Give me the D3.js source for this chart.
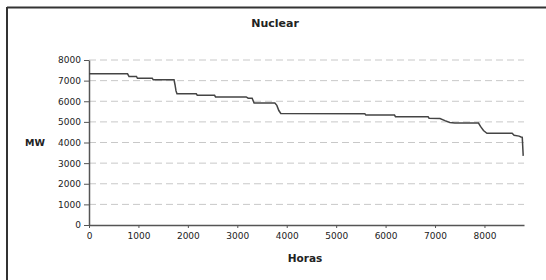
<!DOCTYPE html>
<html lang="es">
<head>
<meta charset="utf-8">
<title>Nuclear</title>
<script src="https://d3js.org/d3.v7.min.js"></script>
<style>
  body { margin: 0; background: #fff; }
  text { font-family: "DejaVu Sans", Verdana, sans-serif; fill: #222; }
</style>
</head>
<body>
<div id="chart"></div>
<script>
// duration curve: hours vs MW
var horas = [0, 780, 810, 960, 980, 1280, 1300, 1720, 1740, 1760, 1780, 2170, 2190, 2540, 2560, 3180, 3220,
  3300, 3340, 3760, 3800, 3840, 3880, 5580, 5600, 6180, 6200, 6860, 6880, 7100, 7200, 7300, 7400, 7880,
  7920, 7980, 8050, 8560, 8600, 8700, 8740, 8765, 8784];
var mw = [7330, 7330, 7200, 7200, 7110, 7110, 7040, 7040, 6800, 6500, 6360, 6360, 6290, 6290, 6210, 6210, 6150,
  6150, 5910, 5910, 5800, 5550, 5410, 5400, 5330, 5330, 5250, 5250, 5180, 5160, 5060, 4970, 4940, 4940,
  4780, 4580, 4450, 4450, 4350, 4310, 4270, 4250, 3350];
var yTicks = [0, 1000, 2000, 3000, 4000, 5000, 6000, 7000, 8000];
var xTicks = [0, 1000, 2000, 3000, 4000, 5000, 6000, 7000, 8000];

var W = 546, H = 280;
var margin = {top: 60, right: 22, bottom: 55, left: 89};
var width = W - margin.left - margin.right;
var height = H - margin.top - margin.bottom;

var svg = d3.select("#chart").append("svg")
  .attr("width", W)
  .attr("height", H);

// frame (top + left edges)
svg.append("line").attr("x1", 7).attr("x2", W).attr("y1", 7.5).attr("y2", 7.5)
  .attr("stroke", "#333").attr("stroke-width", 2);
svg.append("line").attr("x1", 7).attr("x2", 7).attr("y1", 7).attr("y2", H)
  .attr("stroke", "#333").attr("stroke-width", 2);

var g = svg.append("g")
  .attr("transform", "translate(" + margin.left + "," + margin.top + ")");

var x = d3.scaleLinear().domain([0, 8800]).range([0, width]);
var y = d3.scaleLinear().domain([0, 8000]).range([height, 0]);

// gridlines
g.append("g")
  .selectAll("line")
  .data(yTicks.filter(function(d){ return d > 0; }))
  .enter().append("line")
  .attr("x1", 0).attr("x2", width)
  .attr("y1", function(d){ return y(d); })
  .attr("y2", function(d){ return y(d); })
  .attr("stroke", "#c8c8c8")
  .attr("stroke-dasharray", "7,4");

var fmt = d3.format("d");

// y axis
var yAxis = g.append("g")
  .call(d3.axisLeft(y).tickValues(yTicks).tickFormat(fmt).tickSize(5).tickSizeOuter(0).tickPadding(3));
// x axis
var xAxis = g.append("g")
  .attr("transform", "translate(0," + height + ")")
  .call(d3.axisBottom(x).tickValues(xTicks).tickFormat(fmt).tickSize(3).tickSizeOuter(0).tickPadding(5));

[xAxis, yAxis].forEach(function(a){
  a.select(".domain").attr("stroke", "#555").attr("stroke-width", 1.5);
  a.selectAll(".tick line").attr("stroke", "#555");
  a.selectAll(".tick text")
    .style("font-family", "'DejaVu Sans', Verdana, sans-serif")
    .style("font-size", "9px")
    .attr("fill", "#333");
});

// line
var data = horas.map(function(h, i){ return {h: h, v: mw[i]}; });
g.append("path")
  .datum(data)
  .attr("fill", "none")
  .attr("stroke", "#444")
  .attr("stroke-width", 1.5)
  .attr("d", d3.line()
    .x(function(d){ return x(d.h); })
    .y(function(d){ return y(d.v); }));

// title
svg.append("text")
  .attr("x", 275).attr("y", 27)
  .attr("text-anchor", "middle")
  .style("font-size", "11px")
  .style("font-weight", "bold")
  .text("Nuclear");

// axis labels
svg.append("text")
  .attr("x", 305).attr("y", 262)
  .attr("text-anchor", "middle")
  .style("font-size", "10.5px")
  .style("font-weight", "bold")
  .attr("fill", "#333")
  .text("Horas");

svg.append("text")
  .attr("x", 35).attr("y", 146)
  .attr("text-anchor", "middle")
  .style("font-size", "9.5px")
  .style("font-weight", "bold")
  .attr("fill", "#333")
  .text("MW");
</script>
</body>
</html>
